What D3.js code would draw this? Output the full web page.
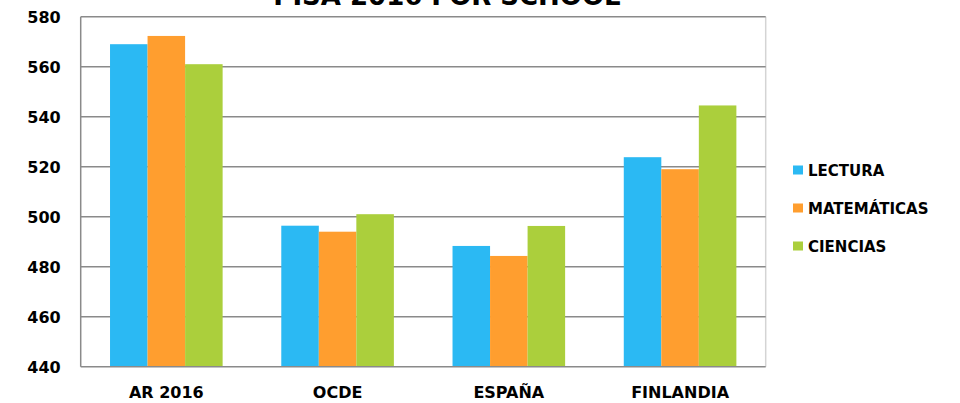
<!DOCTYPE html>
<html>
<head>
<meta charset="utf-8">
<script src="https://cdn.jsdelivr.net/npm/d3@7"></script>
<style>
  html, body { margin: 0; padding: 0; background: #fff; }
  svg { display: block; }
  text { font-family: "DejaVu Sans", sans-serif; font-weight: bold; fill: #000; }
</style>
</head>
<body>
<script>
const title = "PISA 2016 FOR SCHOOL";
const categories = ["AR 2016", "OCDE", "ESPAÑA", "FINLANDIA"];
const seriesNames = ["LECTURA", "MATEMÁTICAS", "CIENCIAS"];
const lectura = [569, 496.4, 488.3, 523.8];
const matematicas = [572.3, 494, 484.3, 519];
const ciencias = [561, 501, 496.3, 544.5];
const yTicks = [440, 460, 480, 500, 520, 540, 560, 580];
const colors = ["#2bb9f3", "#ff9e2f", "#abcf3c"];

const W = 960, H = 403;
const plot = { left: 80.7, right: 765.7, top: 16.7, bottom: 366.7 };

const svg = d3.select("body").append("svg").attr("width", W).attr("height", H);

const x = d3.scaleBand().domain(categories)
  .range([plot.left, plot.right]).paddingInner(0.3425).paddingOuter(0.17125);
const xs = d3.scaleBand().domain(seriesNames).range([0, x.bandwidth()]);
const y = d3.scaleLinear().domain([440, 580]).range([plot.bottom, plot.top]);

const values = [lectura, matematicas, ciencias];

// right border (light)
svg.append("line")
  .attr("x1", plot.right).attr("x2", plot.right)
  .attr("y1", plot.top).attr("y2", plot.bottom)
  .attr("stroke", "#d4d4d4").attr("stroke-width", 1.5);

// gridlines
svg.append("g").selectAll("line").data(yTicks.filter(t => t > 440)).join("line")
  .attr("x1", plot.left).attr("x2", plot.right)
  .attr("y1", d => y(d)).attr("y2", d => y(d))
  .attr("stroke", "#8a8a8a").attr("stroke-width", 1.5);

// bars
const groups = svg.append("g").selectAll("g").data(categories).join("g")
  .attr("transform", d => `translate(${x(d)},0)`);
groups.selectAll("rect")
  .data((c, i) => seriesNames.map((s, k) => ({ s, k, v: values[k][i] })))
  .join("rect")
  .attr("x", d => xs(d.s))
  .attr("width", xs.bandwidth())
  .attr("y", d => y(d.v))
  .attr("height", d => y(440) - y(d.v))
  .attr("fill", d => colors[d.k]);

// axes lines (left & bottom)
svg.append("line")
  .attr("x1", plot.left).attr("x2", plot.left)
  .attr("y1", plot.top).attr("y2", plot.bottom)
  .attr("stroke", "#8a8a8a").attr("stroke-width", 1.5);
svg.append("line")
  .attr("x1", plot.left).attr("x2", plot.right)
  .attr("y1", plot.bottom).attr("y2", plot.bottom)
  .attr("stroke", "#8a8a8a").attr("stroke-width", 1.5);

// y axis labels
const yAxis = d3.axisLeft(y).tickValues(yTicks).tickSize(0).tickPadding(20);
const gy = svg.append("g").attr("transform", `translate(${plot.left},0)`).call(yAxis);
gy.select(".domain").remove();
gy.selectAll("text")
  .attr("font-size", 16).attr("font-family", "DejaVu Sans").attr("font-weight", "bold")
  .attr("fill", "#000").attr("dy", "0.36em");

// x axis labels
const xAxis = d3.axisBottom(x).tickSize(0).tickPadding(20);
const gx = svg.append("g").attr("transform", `translate(0,${plot.bottom})`).call(xAxis);
gx.select(".domain").remove();
gx.selectAll("text")
  .attr("font-size", 16).attr("font-family", "DejaVu Sans").attr("font-weight", "bold")
  .attr("fill", "#000").attr("dy", "0.71em").attr("y", 20);

// title
svg.append("text").attr("x", 447).attr("y", 5)
  .attr("text-anchor", "middle").attr("font-size", 26).text(title);

// legend
const leg = svg.append("g").selectAll("g").data(seriesNames).join("g")
  .attr("transform", (d, i) => `translate(793,${170 + i * 38})`);
leg.append("rect").attr("x", 0).attr("y", -4.5).attr("width", 10).attr("height", 9)
  .attr("fill", (d, i) => colors[i]);
leg.append("text").attr("x", 15).attr("y", 5.5).attr("font-size", 15).text(d => d);
</script>
</body>
</html>
